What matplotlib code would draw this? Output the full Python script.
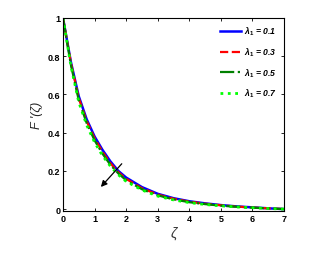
import numpy as np
import matplotlib
matplotlib.use('Agg')
import matplotlib.pyplot as plt

plt.rcParams['font.family'] = ['Liberation Sans', 'DejaVu Sans']
plt.rcParams['mathtext.fontset'] = 'custom'
plt.rcParams['mathtext.it'] = 'Liberation Sans:italic:bold'
plt.rcParams['mathtext.rm'] = 'Liberation Sans:bold'

zeta = [0, 0.25, 0.5, 0.75, 1.0, 1.25, 1.5, 1.75, 2.0, 2.5, 3.0, 3.5, 4.0, 4.5, 5.0, 5.5, 6.0, 6.5, 7.0]
f_l01 = [1.0, 0.77, 0.59, 0.47, 0.38, 0.31, 0.25, 0.20, 0.165, 0.115, 0.080, 0.057, 0.041, 0.030, 0.021, 0.014, 0.009, 0.004, 0.0]
f_l03 = [1.0, 0.765, 0.58, 0.46, 0.37, 0.30, 0.24, 0.193, 0.158, 0.109, 0.076, 0.054, 0.039, 0.028, 0.020, 0.013, 0.008, 0.004, 0.0]
f_l05 = [1.0, 0.755, 0.57, 0.45, 0.36, 0.29, 0.232, 0.187, 0.151, 0.104, 0.072, 0.051, 0.036, 0.026, 0.018, 0.012, 0.0075, 0.0035, 0.0]
f_l07 = [1.0, 0.75, 0.56, 0.44, 0.35, 0.28, 0.225, 0.180, 0.145, 0.100, 0.068, 0.048, 0.034, 0.024, 0.017, 0.011, 0.007, 0.003, 0.0]
labels = ['0.1', '0.3', '0.5', '0.7']

fig = plt.figure(figsize=(3.23, 2.55), dpi=100)
ax = fig.add_axes([63 / 323, (255 - 212) / 255, (284 - 63) / 323, (212 - 19) / 255])

styles = [('#0000ff', '-', 1.8), ('#ff0000', '--', 1.6), ('#008000', '-.', 1.6), ('#00ff00', ':', 2.0)]
for ys, lab, (c, ls, lw) in zip([f_l01, f_l03, f_l05, f_l07], labels, styles):
    ax.plot(zeta, ys, color=c, ls=ls, lw=lw, label=r'$\lambda_1$ = ' + lab)

ax.annotate('', xy=(1.14, 0.105), xytext=(1.92, 0.248),
            arrowprops=dict(arrowstyle='-|>', color='black', lw=0.9, mutation_scale=9))

ax.set_xlim(0, 7)
ax.set_ylim(-0.01, 1.0)
ax.set_xticks(range(0, 8))
ax.set_yticks([0, 0.2, 0.4, 0.6, 0.8, 1.0])
ax.set_yticklabels(['0', '0.2', '0.4', '0.6', '0.8', '1'])
ax.tick_params(direction='in', length=2.5, width=0.6, labelsize=6.5, pad=2,
               top=True, right=True)
for t in ax.get_xticklabels() + ax.get_yticklabels():
    t.set_fontweight('bold')
for s in ax.spines.values():
    s.set_linewidth(0.8)

ax.set_xlabel('ζ', fontsize=10, fontstyle='italic', labelpad=2, color='#333333')
ax.set_ylabel("F '(ζ)", fontsize=9, fontstyle='italic', labelpad=3, color='#222222')

leg = ax.legend(loc='upper right', frameon=False, fontsize=6.2, handlelength=2.4,
                handletextpad=0.4, labelspacing=0.95, borderaxespad=0.4)
for t in leg.get_texts():
    t.set_fontweight('bold')
    t.set_fontstyle('italic')

fig.savefig('out.png', dpi=100)
